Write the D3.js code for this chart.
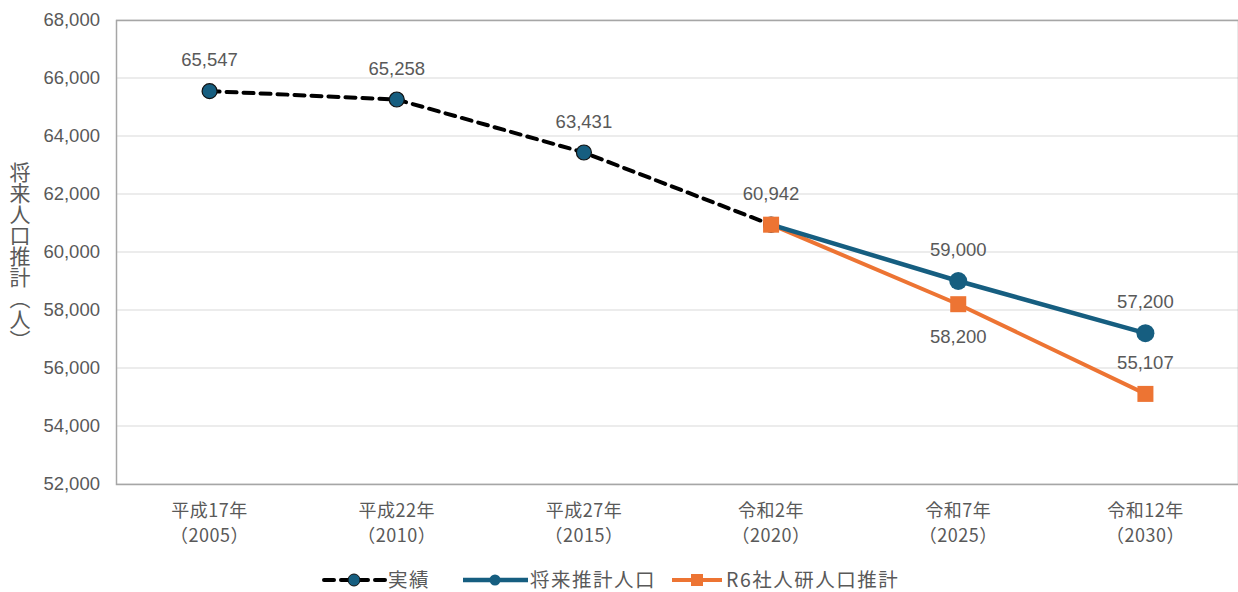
<!DOCTYPE html>
<html>
<head>
<meta charset="utf-8">
<script src="https://cdn.jsdelivr.net/npm/d3@7"></script>
<style>
  body { margin: 0; background: #fff; }
  svg { display: block; font-family: "Noto Sans CJK JP", "Noto Sans", sans-serif; }
</style>
</head>
<body>
<svg id="chart" width="1238" height="592"></svg>
<script>
// categories
const eraLabels = ["平成17年", "平成22年", "平成27年", "令和2年", "令和7年", "令和12年"];
const yearLabels = ["（2005）", "（2010）", "（2015）", "（2020）", "（2025）", "（2030）"];
const years = [2005, 2010, 2015, 2020, 2025, 2030];

// series
const actual = [65547, 65258, 63431, 60942];          // 実績
const projYears = [2020, 2025, 2030];
const projCity = [60942, 59000, 57200];               // 将来推計人口
const projIpss = [60942, 58200, 55107];               // R6社人研人口推計

const yTicks = [52000, 54000, 56000, 58000, 60000, 62000, 64000, 66000, 68000];

const navy = "#165e80", orange = "#ed7433", grey = "#595959";

const margin = {top: 20, right: -1, bottom: 108, left: 116};
const W = 1238, H = 592;
const svg = d3.select("#chart");

const x = d3.scaleBand().domain(years).range([margin.left, W - margin.right]);
const cx = d => x(d) + x.bandwidth() / 2;
const y = d3.scaleLinear().domain([52000, 68000]).range([H - margin.bottom, margin.top]);

// gridlines
svg.append("g")
  .selectAll("line")
  .data(yTicks)
  .join("line")
  .attr("x1", margin.left).attr("x2", W - margin.right)
  .attr("y1", d => y(d)).attr("y2", d => y(d))
  .attr("stroke", "#d9d9d9").attr("stroke-width", 1);

// plot frame
svg.append("rect")
  .attr("x", margin.left + 0.5).attr("y", margin.top + 0.5)
  .attr("width", W - margin.right - margin.left - 1)
  .attr("height", H - margin.bottom - margin.top)
  .attr("fill", "none").attr("stroke", "#a6a6a6").attr("stroke-width", 1.5);

// y axis
const yAxis = svg.append("g")
  .attr("transform", `translate(${margin.left},0)`)
  .call(d3.axisLeft(y).tickValues(yTicks).tickFormat(d3.format(",")).tickSize(0).tickPadding(16));
yAxis.select(".domain").remove();
yAxis.selectAll("text").attr("fill", grey).attr("font-size", 18.5)
  .attr("font-family", "'Liberation Sans', sans-serif");

// x axis labels (two lines)
const xl = svg.append("g").attr("font-size", 18).attr("fill", grey).attr("letter-spacing", 0.5);
xl.selectAll("text.era")
  .data(years)
  .join("text")
  .attr("class", "era")
  .attr("x", d => cx(d)).attr("y", 517)
  .attr("text-anchor", "middle")
  .text((d, i) => eraLabels[i]);
xl.selectAll("text.yr")
  .data(years)
  .join("text")
  .attr("class", "yr")
  .attr("x", d => cx(d)).attr("y", 542)
  .attr("text-anchor", "middle")
  .text((d, i) => yearLabels[i]);

// y axis title, vertical
svg.append("text")
  .attr("x", 20).attr("y", 256)
  .attr("text-anchor", "middle")
  .style("writing-mode", "vertical-rl")
  .attr("font-size", 21).attr("fill", grey)
  .text("将来人口推計（人）");

const line = d3.line().x(d => cx(d[0])).y(d => y(d[1]));

// projection lines
svg.append("path")
  .datum(d3.zip(projYears, projIpss))
  .attr("d", line).attr("fill", "none")
  .attr("stroke", orange).attr("stroke-width", 4);
svg.append("path")
  .datum(d3.zip(projYears, projCity))
  .attr("d", line).attr("fill", "none")
  .attr("stroke", navy).attr("stroke-width", 4.5);

// actual line dashed
svg.append("path")
  .datum(d3.zip(years.slice(0, actual.length), actual))
  .attr("d", line).attr("fill", "none")
  .attr("stroke", "#000").attr("stroke-width", 4)
  .attr("stroke-dasharray", "10,7").attr("stroke-linecap", "round");

// markers
svg.append("g").selectAll("circle")
  .data(d3.zip(projYears, projCity).slice(1))
  .join("circle")
  .attr("cx", d => cx(d[0])).attr("cy", d => y(d[1]))
  .attr("r", 9).attr("fill", navy);

svg.append("g").selectAll("circle")
  .data(d3.zip(years.slice(0, actual.length), actual))
  .join("circle")
  .attr("cx", d => cx(d[0])).attr("cy", d => y(d[1]))
  .attr("r", 7.5).attr("fill", navy).attr("stroke", "#111").attr("stroke-width", 1.2);

svg.append("g").selectAll("rect")
  .data(d3.zip(projYears, projIpss))
  .join("rect")
  .attr("x", d => cx(d[0]) - 8).attr("y", d => y(d[1]) - 8)
  .attr("width", 16).attr("height", 16).attr("fill", orange);

// data labels
const fmt = d3.format(",");
const labels = svg.append("g").attr("font-size", 18.5).attr("fill", grey)
  .attr("font-family", "'Liberation Sans', sans-serif").attr("text-anchor", "middle");
labels.selectAll("text.a")
  .data(d3.zip(years.slice(0, actual.length), actual))
  .join("text").attr("class", "a")
  .attr("x", d => cx(d[0])).attr("y", d => y(d[1]) - 25)
  .text(d => fmt(d[1]));
labels.selectAll("text.c")
  .data(d3.zip(projYears, projCity).slice(1))
  .join("text").attr("class", "c")
  .attr("x", d => cx(d[0])).attr("y", d => y(d[1]) - 25)
  .text(d => fmt(d[1]));
labels.selectAll("text.s")
  .data(d3.zip(projYears, projIpss).slice(1))
  .join("text").attr("class", "s")
  .attr("x", d => cx(d[0])).attr("y", (d, i) => i === 0 ? y(d[1]) + 39 : y(d[1]) - 25)
  .text(d => fmt(d[1]));

// legend
const lg = svg.append("g").attr("transform", "translate(0,580)")
  .attr("font-size", 19.5).attr("fill", grey).attr("letter-spacing", 1.5);
const l1 = lg.append("g");
l1.append("line").attr("x1", 324).attr("x2", 385).attr("y1", 0).attr("y2", 0)
  .attr("stroke", "#000").attr("stroke-width", 4).attr("stroke-dasharray", "10,7").attr("stroke-linecap", "round");
l1.append("circle").attr("cx", 354).attr("cy", 0).attr("r", 6).attr("fill", navy).attr("stroke", "#111");
l1.append("text").attr("x", 388).attr("y", 7).text("実績");

const l2 = lg.append("g");
l2.append("line").attr("x1", 463).attr("x2", 528).attr("y1", 0).attr("y2", 0)
  .attr("stroke", navy).attr("stroke-width", 4.5);
l2.append("circle").attr("cx", 495).attr("cy", 0).attr("r", 5.5).attr("fill", navy);
l2.append("text").attr("x", 530).attr("y", 7).text("将来推計人口");

const l3 = lg.append("g");
l3.append("line").attr("x1", 672).attr("x2", 722).attr("y1", 0).attr("y2", 0)
  .attr("stroke", orange).attr("stroke-width", 4);
l3.append("rect").attr("x", 691).attr("y", -6).attr("width", 12).attr("height", 12).attr("fill", orange);
l3.append("text").attr("x", 726).attr("y", 7).text("R6社人研人口推計");
</script>
</body>
</html>
